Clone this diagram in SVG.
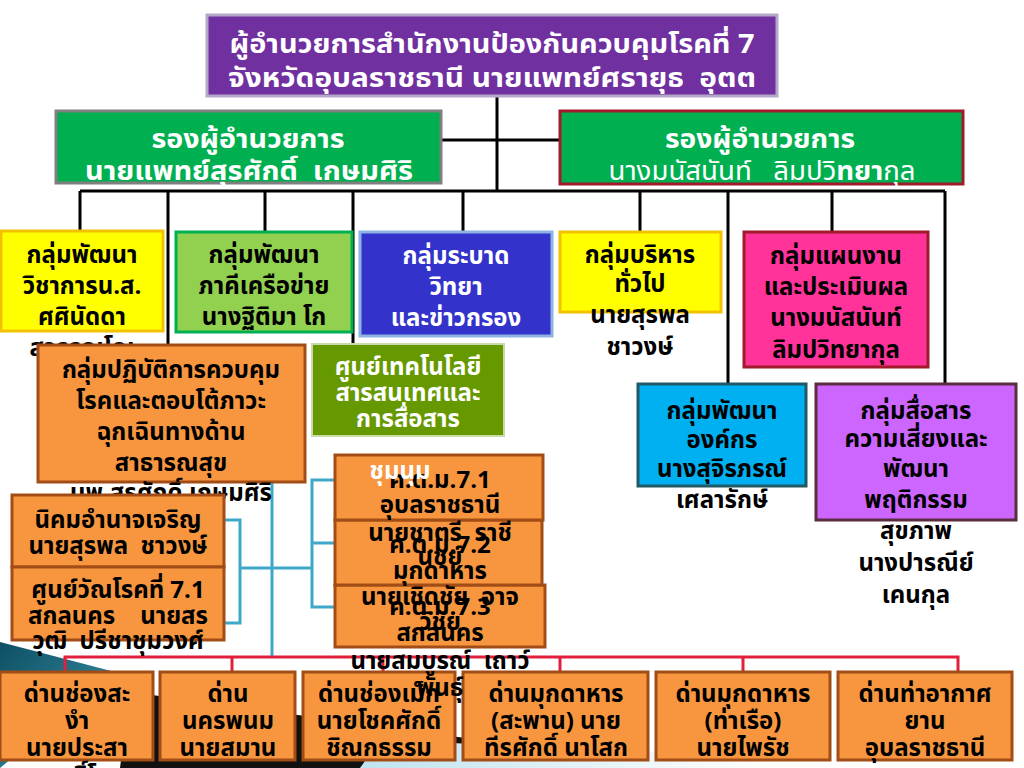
<svg xmlns="http://www.w3.org/2000/svg" width="1024" height="768" viewBox="0 0 1024 768">
<defs>
<linearGradient id="tealg" x1="0" y1="0" x2="1" y2="1"><stop offset="0" stop-color="#0E4F63"/><stop offset="1" stop-color="#3E9BB3"/></linearGradient>
<linearGradient id="lblue" x1="0" y1="0" x2="1" y2="0"><stop offset="0" stop-color="#BFE3F0"/><stop offset="1" stop-color="#FFFFFF"/></linearGradient>
</defs>
<style>
text{font-family:"Noto Sans Thai","Tahoma","Loma","Noto Sans","DejaVu Sans",sans-serif;font-weight:bold;text-anchor:middle;font-size:24px;fill:#000;white-space:pre}
.w{fill:#fff}
.t{font-size:26px}
.n{font-weight:normal}
.or{fill:#F7963F;stroke:#A24C16;stroke-width:3}
.blk{stroke:#000;stroke-width:3;fill:none}
.teal{stroke:#3FA8C8;stroke-width:3;fill:none}
.red{stroke:#E0203C;stroke-width:3;fill:none}
</style>
<rect width="1024" height="768" fill="#fff"/>
<g id="background">
<polygon points="0,642 115,672 0,768" fill="url(#tealg)"/>
<polygon points="130,692 480,740 470,768 120,768" fill="#111"/>
<polygon points="380,740 760,756 760,768 360,768" fill="url(#lblue)"/>
</g>
<g id="connectors">
<path class="blk" d="M497,96 V191 M441,140 H560 M80,191 H945 M80,191 V232 M168,191 V345 M265,191 V232 M353,191 V345 M463,191 V233 M640,191 V232 M728,191 V384 M832,191 V233 M945,191 V384"/>
<path class="teal" d="M272,482 V657 M225,520 H240 V623 H225 M240,568 H312 M335,480 H312 V607 H335 M312,543 H335"/>
<path class="red" d="M65,672 V657 H958 V672 M232,657 V672 M383,657 V672 M560,657 V672 M743,657 V672"/>
</g>
<g id="director">
<rect x="207" y="15" width="570" height="81" fill="#7030A0" stroke="#B4A7C8" stroke-width="3"/>
<text class="w t" x="492" y="53" textLength="525" lengthAdjust="spacingAndGlyphs">ผู้อำนวยการสำนักงานป้องกันควบคุมโรคที่ 7</text>
<text class="w t" x="492" y="87" textLength="528" lengthAdjust="spacingAndGlyphs">จังหวัดอุบลราชธานี นายแพทย์ศรายุธ  อุตต</text>
</g>
<g id="deputy1">
<rect x="56" y="111" width="385" height="72" fill="#00B050" stroke="#7F7F7F" stroke-width="3"/>
<text class="w t" x="248" y="148" textLength="193" lengthAdjust="spacingAndGlyphs">รองผู้อำนวยการ</text>
<text class="w t" x="249" y="180" textLength="328" lengthAdjust="spacingAndGlyphs">นายแพทย์สุรศักดิ์  เกษมศิริ</text>
</g>
<g id="deputy2">
<rect x="560" y="111" width="403" height="73" fill="#00B050" stroke="#A01A2C" stroke-width="3"/>
<text class="w t" x="760" y="148" textLength="190" lengthAdjust="spacingAndGlyphs">รองผู้อำนวยการ</text>
<text class="w t n" x="762" y="180" textLength="307" lengthAdjust="spacingAndGlyphs">นางมนัสนันท์   ลิมปวิ<tspan font-weight="bold">ทยา</tspan>กุล</text>
</g>
<g id="g-academic">
<rect x="1" y="231" width="162" height="100" fill="#FFFF00" stroke="#F2C200" stroke-width="3"/>
<text x="82" y="263">กลุ่มพัฒนา</text>
<text x="82" y="294">วิชาการน.ส.</text>
<text x="82" y="325">ศศินัดดา</text>
<text x="82" y="356">สุวรรณโณ</text>
</g>
<g id="g-network">
<rect x="176" y="232" width="176" height="100" fill="#92D050" stroke="#00B050" stroke-width="3"/>
<text x="264" y="263">กลุ่มพัฒนา</text>
<text x="264" y="294">ภาคีเครือข่าย</text>
<text x="264" y="325">นางฐิติมา โก</text>
</g>
<g id="g-epi">
<rect x="360" y="232" width="192" height="104" fill="#3333CC" stroke="#8DB3E2" stroke-width="3"/>
<text class="w" x="456" y="264">กลุ่มระบาด</text>
<text class="w" x="456" y="295">วิทยา</text>
<text class="w" x="456" y="326">และข่าวกรอง</text>
</g>
<g id="g-admin">
<rect x="560" y="232" width="161" height="80" fill="#FFFF00" stroke="#F2C200" stroke-width="3"/>
<text x="640" y="263">กลุ่มบริหาร</text>
<text x="640" y="292">ทั่วไป</text>
<text x="640" y="323">นายสุรพล</text>
<text x="640" y="355">ชาวงษ์</text>
</g>
<g id="g-plan">
<rect x="744" y="232" width="184" height="135" fill="#FF3399" stroke="#A01A2C" stroke-width="3"/>
<text x="836" y="264">กลุ่มแผนงาน</text>
<text x="836" y="295">และประเมินผล</text>
<text x="836" y="326">นางมนัสนันท์</text>
<text x="836" y="358">ลิมปวิทยากุล</text>
</g>
<g id="g-emergency">
<rect x="38" y="345" width="267" height="137" class="or"/>
<text x="171" y="378">กลุ่มปฏิบัติการควบคุม</text>
<text x="171" y="409">โรคและตอบโต้ภาวะ</text>
<text x="171" y="440">ฉุกเฉินทางด้าน</text>
<text x="171" y="471">สาธารณสุข</text>
<text x="171" y="501">นพ.สุรศักดิ์ เกษมศิริ</text>
</g>
<g id="g-it">
<rect x="312" y="344" width="192" height="92" fill="#669900" stroke="#C9D9A8" stroke-width="2"/>
<text class="w" x="408" y="375">ศูนย์เทคโนโลยี</text>
<text class="w" x="408" y="401">สารสนเทศและ</text>
<text class="w" x="408" y="427">การสื่อสาร</text>
</g>
<g id="g-org">
<rect x="638" y="384" width="168" height="102" fill="#00B0F0" stroke="#215967" stroke-width="3"/>
<text x="722" y="419">กลุ่มพัฒนา</text>
<text x="722" y="448">องค์กร</text>
<text x="722" y="477">นางสุจิรภรณ์</text>
<text x="722" y="508">เศลารักษ์</text>
</g>
<g id="g-risk">
<rect x="816" y="384" width="200" height="136" fill="#CC66FF" stroke="#5B2C3E" stroke-width="3"/>
<text x="916" y="419">กลุ่มสื่อสาร</text>
<text x="916" y="447">ความเสี่ยงและ</text>
<text x="916" y="477">พัฒนา</text>
<text x="916" y="508">พฤติกรรม</text>
<text x="916" y="539">สุขภาพ</text>
<text x="916" y="571">นางปารณีย์</text>
<text x="916" y="603">เคนกุล</text>
</g>
<g id="g-nikom">
<rect x="12" y="495" width="212" height="72" class="or"/>
<text x="118" y="528">นิคมอำนาจเจริญ</text>
<text x="118" y="554">นายสุรพล  ชาวงษ์</text>
</g>
<g id="g-tb">
<rect x="12" y="567" width="212" height="73" class="or"/>
<text x="118" y="598">ศูนย์วัณโรคที่ 7.1</text>
<text x="118" y="624">สกลนคร    นายสร</text>
<text x="118" y="649">วุฒิ  ปรีชาชุมวงศ์</text>
</g>
<g id="b1">
<rect x="0" y="672" width="153" height="88" class="or"/>
<text x="77" y="702">ด่านช่องสะ</text>
<text x="77" y="729">งำ</text>
<text x="77" y="756">นายประสา</text>
<text x="77" y="784">ทธิ์โ</text>
</g>
<g id="b2">
<rect x="160" y="672" width="135" height="88" class="or"/>
<text x="228" y="702">ด่าน</text>
<text x="228" y="729">นครพนม</text>
<text x="228" y="756">นายสมาน</text>
</g>
<g id="b3">
<rect x="303" y="672" width="152" height="88" class="or"/>
<text x="379" y="702">ด่านช่องเม็ก</text>
<text x="379" y="729">นายโชคศักดิ์</text>
<text x="379" y="756">ชิณกธรรม</text>
</g>
<g id="b4">
<rect x="463" y="672" width="185" height="88" class="or"/>
<text x="556" y="702">ด่านมุกดาหาร</text>
<text x="556" y="729">(สะพาน) นาย</text>
<text x="556" y="756">ทีรศักดิ์ นาโสก</text>
</g>
<g id="b5">
<rect x="656" y="672" width="174" height="88" class="or"/>
<text x="743" y="702">ด่านมุกดาหาร</text>
<text x="743" y="729">(ท่าเรือ)</text>
<text x="743" y="756">นายไพรัช</text>
</g>
<g id="b6">
<rect x="838" y="672" width="174" height="88" class="or"/>
<text x="925" y="702">ด่านท่าอากาศ</text>
<text x="925" y="729">ยาน</text>
<text x="925" y="756">อุบลราชธานี</text>
</g>
<g id="ktm3">
<rect x="335" y="585" width="210" height="62" class="or"/>
<text x="440" y="615">ค.ต.ม.7.3</text>
<text x="440" y="641">สกลนคร</text>
<text x="440" y="669">นายสมบูรณ์  เถาว์</text>
<text x="440" y="696">พันธุ์</text>
</g>
<g id="ktm2">
<rect x="335" y="520" width="207" height="65" class="or"/>
<text x="440" y="553">ค.ต.ม.7.2</text>
<text x="440" y="579">มุกดาหาร</text>
<text x="440" y="605">นายเชิดชัย  อาจ</text>
<text x="440" y="630">วิชัย</text>
</g>
<g id="ktm1">
<rect x="335" y="455" width="208" height="65" class="or"/>
<text x="440" y="488">ค.ต.ม.7.1</text>
<text x="440" y="513">อุบลราชธานี</text>
<text x="440" y="541">นายชาตรี  ราชี</text>
<text x="440" y="565">นชย์</text>
<text class="w" x="400" y="479">ชุมนุม</text>
</g>
</svg>
